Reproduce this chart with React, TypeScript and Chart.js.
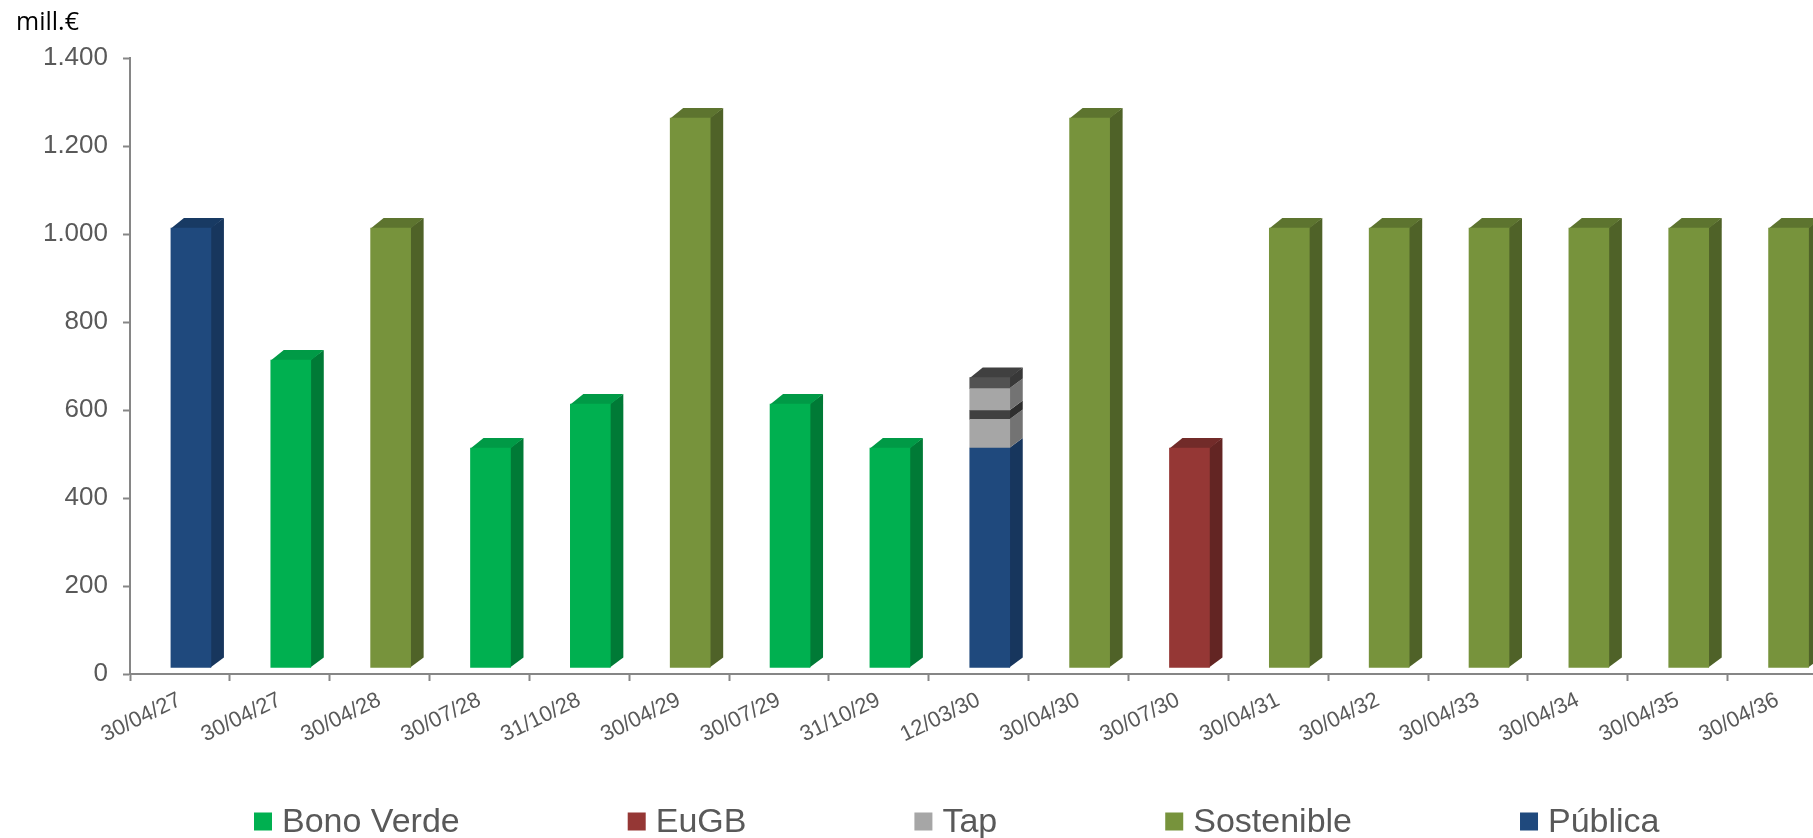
import { useEffect, useRef } from 'react';
import { Chart, registerables } from 'chart.js';

Chart.register(...registerables);

// ---------- data ----------
const CATEGORIES = [
  '30/04/27', '30/04/27', '30/04/28', '30/07/28', '31/10/28', '30/04/29',
  '30/07/29', '31/10/29', '12/03/30', '30/04/30', '30/07/30', '30/04/31',
  '30/04/32', '30/04/33', '30/04/34', '30/04/35', '30/04/36',
];
const PUBLICA = [1000, null, null, null, null, null, null, null, 500, null, null, null, null, null, null, null, null];
const TAP_A = [null, null, null, null, null, null, null, null, 65, null, null, null, null, null, null, null, null];
const TAP_B = [null, null, null, null, null, null, null, null, 20, null, null, null, null, null, null, null, null];
const TAP_C = [null, null, null, null, null, null, null, null, 50, null, null, null, null, null, null, null, null];
const TAP_D = [null, null, null, null, null, null, null, null, 25, null, null, null, null, null, null, null, null];
const BONO_VERDE = [null, 700, null, 500, 600, null, 600, 500, null, null, null, null, null, null, null, null, null];
const EUGB = [null, null, null, null, null, null, null, null, null, null, 500, null, null, null, null, null, null];
const SOSTENIBLE = [null, null, 1000, null, null, 1250, null, null, null, 1250, null, 1000, 1000, 1000, 1000, 1000, 1000];

const Y_MIN = 0;
const Y_MAX = 1400;
const Y_STEP = 200;
const UNIT_LABEL = 'mill.€';
const LEGEND_ORDER = ['Bono Verde', 'EuGB', 'Tap', 'Sostenible', 'Pública'];

// ---------- styling / layout ----------
const CANVAS_W = 1880;
const CANVAS_H = 838;
const DEPTH_X = 13;
const DEPTH_Y = -10;
const SHIFT_X = 11;
const SHIFT_Y = -6;
const AXIS_COLOR = '#868686';
const TEXT_COLOR = '#595959';
const FONT = '"Liberation Sans", Arial, sans-serif';

function formatThousands(v: number): string {
  return String(v).replace(/\B(?=(\d{3})+(?!\d))/g, '.');
}

const bar3dPlugin = {
  id: 'bar3d',
  beforeDatasetsDraw(chart: any) {
    const ctx = chart.ctx;
    ctx.save();
    ctx.translate(SHIFT_X, SHIFT_Y);
    const n = chart.data.labels.length;
    const topIdx: number[] = new Array(n).fill(-1);
    chart.data.datasets.forEach((ds: any, di: number) => {
      ds.data.forEach((v: any, i: number) => {
        if (v != null && v !== 0) topIdx[i] = di;
      });
    });
    chart.data.datasets.forEach((ds: any, di: number) => {
      const meta = chart.getDatasetMeta(di);
      meta.data.forEach((el: any, i: number) => {
        const v = ds.data[i];
        if (v == null || v === 0) return;
        const { x, y, base, width } = el.getProps(['x', 'y', 'base', 'width'], true);
        const l = x - width / 2;
        const r = x + width / 2;
        ctx.fillStyle = ds.sideColor;
        ctx.beginPath();
        ctx.moveTo(r - 0.5, y);
        ctx.lineTo(r + DEPTH_X, y + DEPTH_Y);
        ctx.lineTo(r + DEPTH_X, base + DEPTH_Y);
        ctx.lineTo(r - 0.5, base);
        ctx.closePath();
        ctx.fill();
        if (topIdx[i] === di) {
          ctx.fillStyle = ds.topColor;
          ctx.beginPath();
          ctx.moveTo(l, y + 0.5);
          ctx.lineTo(l + DEPTH_X, y + DEPTH_Y);
          ctx.lineTo(r + DEPTH_X, y + DEPTH_Y);
          ctx.lineTo(r, y + 0.5);
          ctx.closePath();
          ctx.fill();
        }
      });
    });
  },
  afterDatasetsDraw(chart: any) {
    chart.ctx.restore();
  },
};

const LEGEND_X = 254;
const LEGEND_BASELINE = 832;
const LEGEND_BOX = 18;
const LEGEND_TEXT_GAP = 28;
const LEGEND_ITEM_GAP = 168;

const legendPlugin = {
  id: 'customLegend',
  afterDraw(chart: any) {
    const ctx = chart.ctx;
    ctx.save();
    ctx.font = `34px ${FONT}`;
    ctx.textBaseline = 'alphabetic';
    ctx.textAlign = 'left';
    let x = LEGEND_X;
    LEGEND_ORDER.forEach((label) => {
      const ds = chart.data.datasets.find((d: any) => d.label === label);
      if (!ds) return;
      ctx.fillStyle = ds.backgroundColor;
      ctx.fillRect(x, LEGEND_BASELINE - 19.5, LEGEND_BOX, LEGEND_BOX);
      ctx.fillStyle = TEXT_COLOR;
      ctx.fillText(label, x + LEGEND_TEXT_GAP, LEGEND_BASELINE);
      x += LEGEND_TEXT_GAP + ctx.measureText(label).width + LEGEND_ITEM_GAP;
    });
    ctx.restore();
  },
};

export default function App() {
  const ref = useRef<HTMLCanvasElement | null>(null);

  useEffect(() => {
    if (!ref.current) return;
    const mk = (label: string, data: any[], front: string, side: string, top: string) => ({
      label,
      data,
      backgroundColor: front,
      sideColor: side,
      topColor: top,
      borderWidth: 0,
      barThickness: 40,
    });
    const chart = new Chart(ref.current, {
      type: 'bar',
      data: {
        labels: CATEGORIES,
        datasets: [
          mk('Pública', PUBLICA, '#1F497D', '#17365D', '#183A63'),
          mk('Tap', TAP_A, '#A6A6A6', '#737373', '#8C8C8C'),
          mk('Tap (2)', TAP_B, '#404040', '#2E2E2E', '#353535'),
          mk('Tap (3)', TAP_C, '#A6A6A6', '#737373', '#8C8C8C'),
          mk('Tap (4)', TAP_D, '#525252', '#383838', '#404040'),
          mk('Bono Verde', BONO_VERDE, '#00B050', '#007A36', '#009A46'),
          mk('EuGB', EUGB, '#953735', '#632523', '#722B29'),
          mk('Sostenible', SOSTENIBLE, '#77933C', '#4F6228', '#5D742F'),
        ] as any,
      },
      options: {
        animation: false,
        responsive: false,
        events: [],
        layout: { padding: { left: 16, top: 8, right: 52.5, bottom: 80 } },
        plugins: {
          legend: { display: false },
          tooltip: { enabled: false },
          title: {
            display: true,
            text: UNIT_LABEL,
            align: 'start',
            color: '#000000',
            font: { family: '"Open Sans", sans-serif', size: 25, weight: 'normal' },
            padding: { top: 0, bottom: 20 },
          },
        },
        scales: {
          x: {
            stacked: true,
            offset: true,
            grid: {
              display: true,
              offset: true,
              drawOnChartArea: false,
              drawTicks: true,
              tickLength: 7,
              tickWidth: 2,
              tickColor: AXIS_COLOR,
            },
            border: { display: true, color: AXIS_COLOR, width: 2 },
            ticks: {
              autoSkip: false,
              maxRotation: 26,
              minRotation: 26,
              color: TEXT_COLOR,
              font: { family: FONT, size: 22 },
              padding: 6,
            },
            afterFit(scale: any) {
              scale.height = 84;
            },
          },
          y: {
            stacked: true,
            min: Y_MIN,
            max: Y_MAX,
            grid: {
              display: true,
              drawOnChartArea: false,
              drawTicks: true,
              tickLength: 7,
              tickWidth: 2,
              tickColor: AXIS_COLOR,
            },
            border: { display: true, color: AXIS_COLOR, width: 2 },
            ticks: {
              stepSize: Y_STEP,
              color: TEXT_COLOR,
              font: { family: FONT, size: 26 },
              padding: 15,
              callback: (v: any) => formatThousands(Number(v)),
            },
            afterFit(scale: any) {
              scale.width = 114;
            },
          },
        },
      } as any,
      plugins: [bar3dPlugin, legendPlugin],
    });
    return () => chart.destroy();
  }, []);

  return (
    <div
      style={{
        position: 'fixed',
        left: 0,
        top: 0,
        width: 1813,
        height: 838,
        overflow: 'hidden',
        background: '#ffffff',
      }}
    >
      <canvas ref={ref} width={CANVAS_W} height={CANVAS_H} style={{ display: 'block', width: CANVAS_W, height: CANVAS_H }} />
    </div>
  );
}
